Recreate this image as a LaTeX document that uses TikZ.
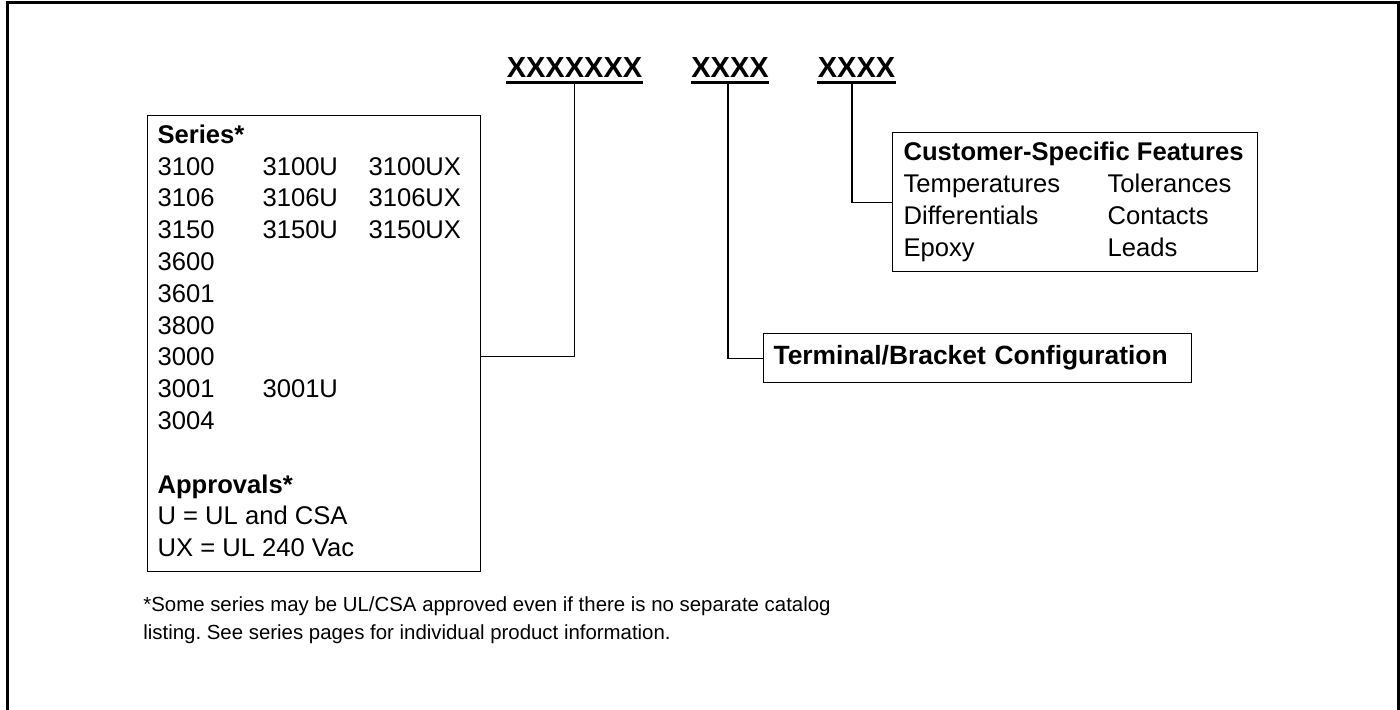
\documentclass[tikz,border=0pt]{standalone}
\usepackage{fontspec}
\setmainfont{Liberation Sans}
\frenchspacing
\usetikzlibrary{positioning}
\tikzstyle{infobox}=[draw,line width=0.6pt,anchor=north west,inner xsep=5pt,align=left,font=\fontsize{12.8}{15.9}\selectfont]
\tikzstyle{codefield}=[anchor=base,inner sep=0pt,font=\fontsize{14.5}{17}\selectfont\bfseries]
\tikzstyle{ulbar}=[line width=1.8pt]
\tikzstyle{leader}=[line width=0.6pt]

\begin{document}
\begin{tikzpicture}[x=0.5pt,y=-0.5pt]
    \useasboundingbox (0,0) rectangle (1400,709);
    \draw[line width=1.5pt] (7,730) -- (7,2) -- (1398.5,2) -- (1398.5,730);

    % part number fields
    \node[codefield] (hA) at (574.5,77.7) {XXXXXXX};
    \node[codefield] (hB) at (730,77.7)   {XXXX};
    \node[codefield] (hC) at (856.5,77.7) {XXXX};
    \foreach \h in {hA,hB,hC}
    \draw[ulbar] ([yshift=-2.4pt]\h.base west) -- ([yshift=-2.4pt]\h.base east);

    \node[infobox,inner ysep=2.75pt] (series) at (147,115) {%
      \begin{tabular}{@{}p{52.5pt}@{}p{53pt}@{}p{51pt}@{}}
        \multicolumn{3}{@{}l@{}}{\bfseries Series*}\\
        3100 & 3100U & 3100UX\\
        3106 & 3106U & 3106UX\\
        3150 & 3150U & 3150UX\\
        3600 & & \\
        3601 & & \\
        3800 & & \\
        3000 & & \\
        3001 & 3001U & \\
        3004 & & \\
        & & \\
        \multicolumn{3}{@{}l@{}}{\bfseries Approvals*}\\
        \multicolumn{3}{@{}l@{}}{U = UL and CSA}\\
        \multicolumn{3}{@{}l@{}}{UX = UL 240 Vac}
      \end{tabular}};

    \node[infobox,inner xsep=5.5pt,inner ysep=2.95pt] (cust) at (892,132) {%
      \begin{tabular}{@{}p{102pt}@{}p{69.5pt}@{}}
        \multicolumn{2}{@{}l@{}}{\bfseries Customer-Specific Features}\\
        Temperatures & Tolerances\\
        Differentials & Contacts\\
        Epoxy & Leads
      \end{tabular}};

    \node[infobox,text width=204pt,minimum height=24.5pt,font=\fontsize{13.2}{15.9}\selectfont\bfseries] (term) at (763,333) {Terminal/Bracket Configuration};

    \draw[leader] ([yshift=-6.5pt]series.east) -| ([yshift=-2.4pt]hA.base);
    \draw[leader] (term.west) -| ([xshift=-1pt,yshift=-2.4pt]hB.base);
    \draw[leader] (cust.west) -| ([xshift=-2.25pt,yshift=-2.4pt]hC.base);

    \node[anchor=north west,inner sep=0pt,align=left,font=\fontsize{10.2}{14}\selectfont] (note) at (143,596)
      {*Some series may be UL/CSA approved even if there is no separate catalog\\
       listing. See series pages for individual product information.};
\end{tikzpicture}
\end{document}
